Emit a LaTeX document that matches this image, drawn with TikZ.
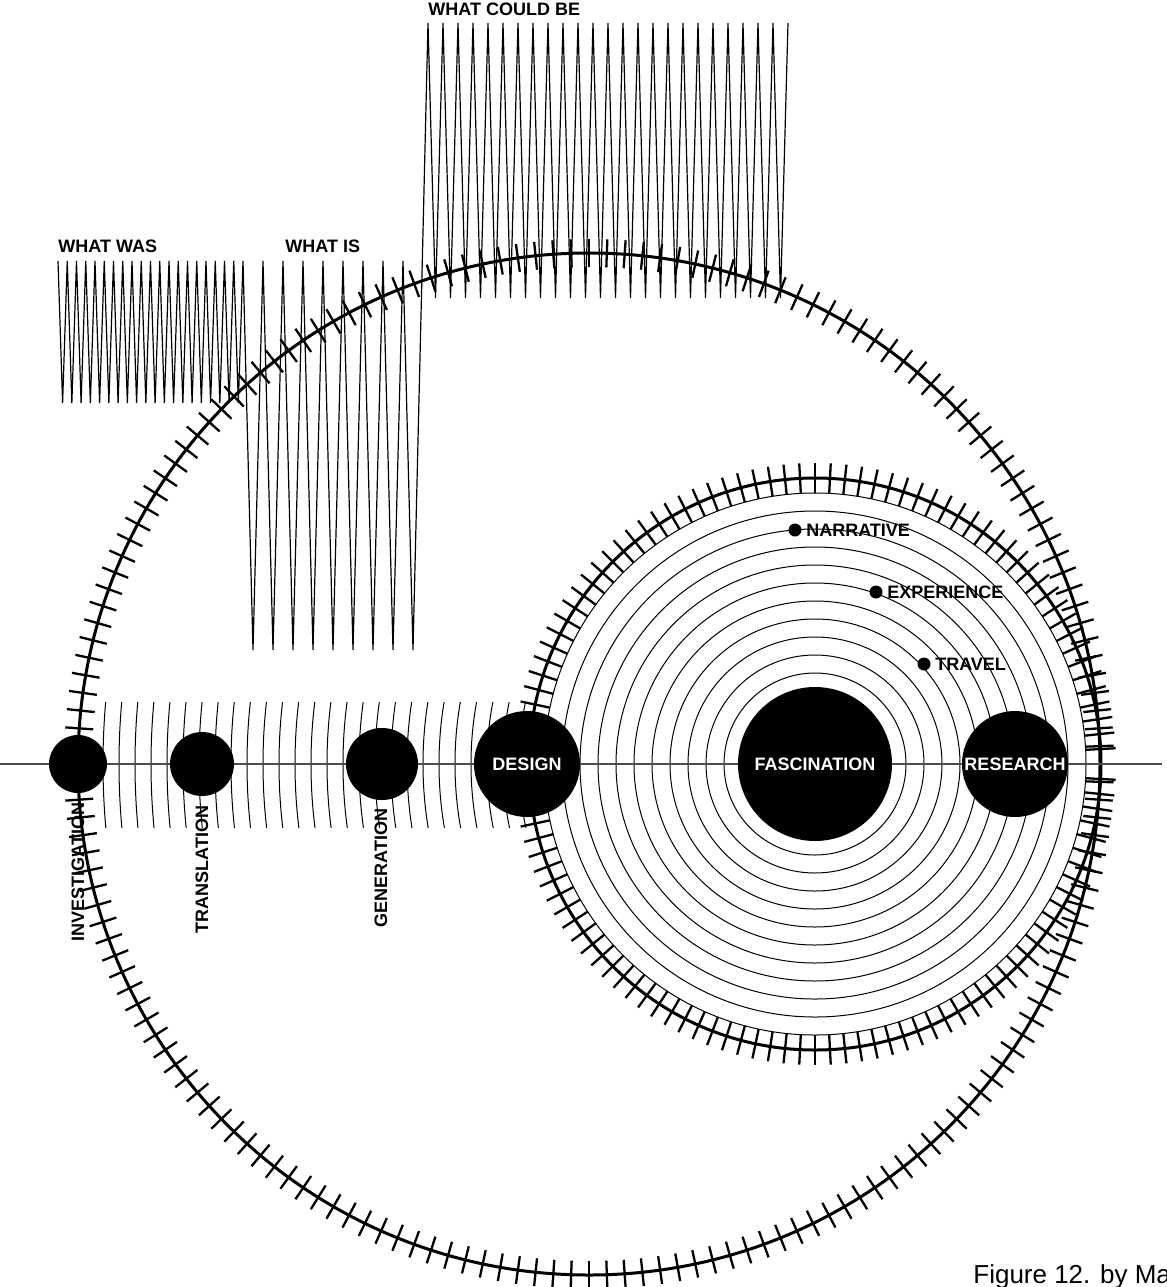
\documentclass[tikz,border=0pt]{standalone}
\usepackage{fontspec}
\setmainfont{Liberation Sans}
\usetikzlibrary{positioning}

\begin{document}
\begin{tikzpicture}[x=0.5pt,y=-0.5pt,
  zig/.style={line width=0.6pt},
  arcline/.style={line width=0.5pt},
  ring/.style={line width=1.5pt},
  tickmark/.style={line width=1.15pt},
  axisline/.style={line width=0.75pt,black!70},
  disc/.style={circle,fill=black,inner sep=0pt,text=white,font=\bfseries\fontsize{9}{10}\selectfont},
  spot/.style={circle,fill=black,inner sep=0pt,minimum size=6.5pt},
  tag/.style={font=\bfseries\fontsize{9}{10}\selectfont,inner sep=0pt},
  steplabel/.style={tag,rotate=90,anchor=east}]
\useasboundingbox (0,0) rectangle (1167,1287);
\draw[zig] (58,261)
  \foreach \k in {0,...,19} { -- ({62.6+9.25*\k},403) -- ({67.25+9.25*\k},261) }
  \foreach \k in {0,...,7} { -- ({253+20*\k},650) -- ({263+20*\k},261) }
  -- (413,650) -- (428,23)
  \foreach \k in {0,...,23} { -- ({435.5+15*\k},298) -- ({443+15*\k},23) };
\begin{scope}
\clip (90,702) rectangle (545,827);
\foreach \r in {296,312,...,712} \draw[arcline] (815,764) circle[radius=\r];
\end{scope}
\foreach \r in {91,109,...,271} \draw[arcline] (815,764) circle[radius=\r];
\draw[ring] (589,764) circle[radius=511];
\foreach \a in {0,2,...,358} \draw[tickmark] ({589+497*cos(\a)},{764+497*sin(\a)}) -- ({589+525*cos(\a)},{764+525*sin(\a)});
\draw[ring] (815,764) circle[radius=286];
\foreach \a in {0,3,...,357} \draw[tickmark] ({815+271*cos(\a)},{764+271*sin(\a)}) -- ({815+301*cos(\a)},{764+301*sin(\a)});
\coordinate (axisW) at (0,764);
\coordinate (axisE) at (1162,764);
\draw[axisline] (axisW) -- (axisE);
\node[disc,minimum size=29pt] (investigation) at (78,764) {};
\node[disc,minimum size=32pt] (translation) at (202,764) {};
\node[disc,minimum size=36pt] (generation) at (382,764) {};
\node[disc,minimum size=53pt] (design) at (527,764) {DESIGN};
\node[disc,minimum size=77pt] (fascination) at (815,764) {FASCINATION};
\node[disc,minimum size=53pt] (research) at (1015,764) {RESEARCH};
\node[steplabel] (investigationlbl) at (78,802) {INVESTIGATION};
\node[steplabel] (translationlbl) at (202,805) {TRANSLATION};
\node[steplabel] (generationlbl) at (381,808) {GENERATION};
\node[spot] (narrative) at (795,530) {};
\node[tag,right=2pt of narrative] (narrativelbl) {NARRATIVE};
\node[spot] (experience) at (876,592) {};
\node[tag,right=2pt of experience] (experiencelbl) {EXPERIENCE};
\node[spot] (travel) at (924,664) {};
\node[tag,right=2pt of travel] (travellbl) {TRAVEL};
\node[tag,anchor=base west] (whatwas) at (58,252) {WHAT WAS};
\node[tag,anchor=base west] (whatis) at (285,252) {WHAT IS};
\node[tag,anchor=base west] (whatcouldbe) at (428,15) {WHAT COULD BE};
\node[anchor=base west,inner sep=0pt,font=\fontsize{13}{15}\selectfont] (caption) at (973,1283) {Figure 12. by Ma};
\end{tikzpicture}
\end{document}
